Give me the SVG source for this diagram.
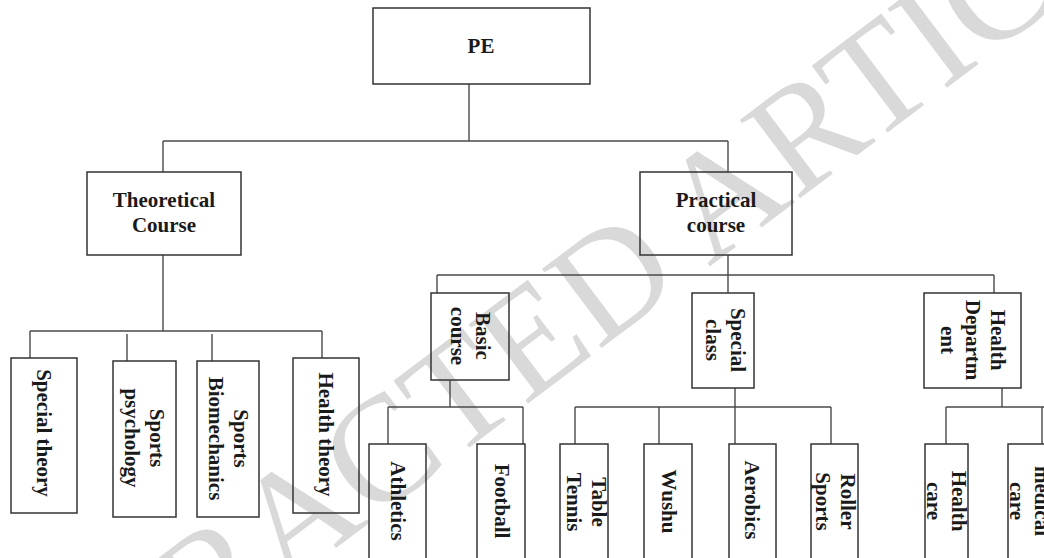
<svg xmlns="http://www.w3.org/2000/svg" width="1044" height="558" viewBox="0 0 1044 558">
<style>
.box{fill:none;stroke:#333;stroke-width:1.5}
.ln{fill:none;stroke:#4a4a4a;stroke-width:1.4}
.t{font-family:"Liberation Serif","Times New Roman",serif;font-weight:bold;font-size:21px;fill:#1a1a1a;text-anchor:middle}
.wm{font-family:"Liberation Serif","Times New Roman",serif;font-size:151px;fill:#d9d9d9}
</style>
<rect x="0" y="0" width="1044" height="558" fill="#fff"/>
<text class="wm" transform="translate(-25,820) rotate(-37)">RETRACTED ARTICLE</text>
<g id="connectors">
<path class="ln" d="M469,84V141M163,141H728M163,141V172M728,141V172"/>
<path class="ln" d="M163,255V331M30,331H322M30,331V358M127,334V361M212,334V361M322,331V358"/>
<path class="ln" d="M728,255V275M437,275H994M437,275V293M728,275V293M994,275V293"/>
<path class="ln" d="M450,380V407M388,407H523M388,407V444M523,407V444"/>
<path class="ln" d="M735,388V444M575,407H831M575,407V444M659,407V444M831,407V444"/>
<path class="ln" d="M1002,388V407M946,407H1044M946,407V444M1042,407V444"/>
</g>
<g id="pe"><rect class="box" x="373" y="8" width="217" height="76"/><text class="t" x="481" y="53">PE</text></g>
<g id="theoretical"><rect class="box" x="87" y="172" width="154" height="83"/><text class="t"><tspan x="164" y="207">Theoretical</tspan><tspan x="164" y="232">Course</tspan></text></g>
<g id="practical"><rect class="box" x="640" y="172" width="152" height="83"/><text class="t"><tspan x="716" y="207">Practical</tspan><tspan x="716" y="232">course</tspan></text></g>
<g id="special-theory"><rect class="box" x="11" y="358" width="66" height="155"/><text class="t" transform="translate(44,433) rotate(90)" y="7">Special theory</text></g>
<g id="sports-psychology"><rect class="box" x="113" y="361" width="63" height="156"/><text class="t" transform="translate(144.5,438) rotate(90)"><tspan x="0" y="-5.5">Sports</tspan><tspan x="0" y="19.5">psychology</tspan></text></g>
<g id="sports-biomechanics"><rect class="box" x="197" y="361" width="62" height="156"/><text class="t" transform="translate(228,438.5) rotate(90)"><tspan x="0" y="-5.5">Sports</tspan><tspan x="0" y="19.5">Biomechanics</tspan></text></g>
<g id="health-theory"><rect class="box" x="293" y="358" width="66" height="155"/><text class="t" transform="translate(326,434.5) rotate(90)" y="7">Health theory</text></g>
<g id="basic-course"><rect class="box" x="431" y="293" width="78" height="87"/><text class="t" transform="translate(470,336) rotate(90)"><tspan x="0" y="-5.5">Basic</tspan><tspan x="0" y="19.5">course</tspan></text></g>
<g id="special-class"><rect class="box" x="692" y="293" width="62" height="95"/><text class="t" transform="translate(725,340) rotate(90)"><tspan x="0" y="-5.5">Special</tspan><tspan x="0" y="19.5">class</tspan></text></g>
<g id="health-department"><rect class="box" x="924" y="293" width="97" height="95"/><text class="t" transform="translate(973,340) rotate(90)"><tspan x="0" y="-18">Health</tspan><tspan x="0" y="7">Departm</tspan><tspan x="0" y="32">ent</tspan></text></g>
<g id="athletics"><rect class="box" x="369" y="444" width="57" height="126"/><text class="t" transform="translate(397.5,501) rotate(90)" y="7">Athletics</text></g>
<g id="football"><rect class="box" x="477" y="444" width="48" height="126"/><text class="t" transform="translate(502,501) rotate(90)" y="7">Football</text></g>
<g id="table-tennis"><rect class="box" x="560" y="444" width="48" height="126"/><text class="t" transform="translate(586,502) rotate(90)"><tspan x="0" y="-5.5">Table</tspan><tspan x="0" y="19.5">Tennis</tspan></text></g>
<g id="wushu"><rect class="box" x="644" y="444" width="48" height="126"/><text class="t" transform="translate(669,501.5) rotate(90)" y="7">Wushu</text></g>
<g id="aerobics"><rect class="box" x="729" y="444" width="47" height="126"/><text class="t" transform="translate(752,500) rotate(90)" y="7">Aerobics</text></g>
<g id="roller-sports"><rect class="box" x="811" y="444" width="47" height="126"/><text class="t" transform="translate(835,501.5) rotate(90)"><tspan x="0" y="-5.5">Roller</tspan><tspan x="0" y="19.5">Sports</tspan></text></g>
<g id="health-care"><rect class="box" x="925" y="444" width="43" height="126"/><text class="t" transform="translate(946.5,501) rotate(90)"><tspan x="0" y="-5.5">Health</tspan><tspan x="0" y="19.5">care</tspan></text></g>
<g id="medical-care"><rect class="box" x="1008" y="444" width="48" height="126"/><text class="t" transform="translate(1029,501) rotate(90)"><tspan x="0" y="-5.5">medical</tspan><tspan x="0" y="19.5">care</tspan></text></g>
</svg>
